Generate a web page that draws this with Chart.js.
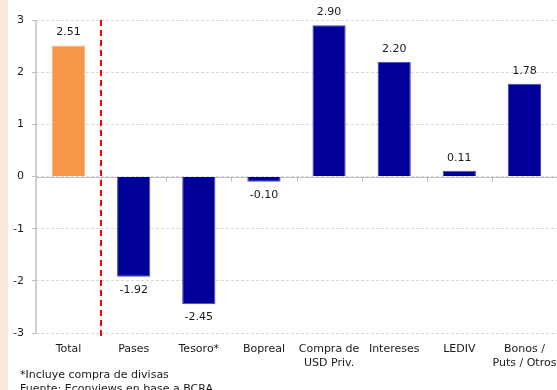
<!DOCTYPE html>
<html lang="es">
<head>
  <meta charset="UTF-8">
  <title>Factores de variación</title>
  <script src="https://cdn.jsdelivr.net/npm/chart.js"></script>
  <style>
    html, body { margin: 0; padding: 0; background: #ffffff; }
    #wrap { position: relative; width: 557px; height: 390px; }
  </style>
</head>
<body>
  <div id="wrap">
    <canvas id="factores" width="557" height="390"></canvas>
  </div>

  <script>
    // Datos
    const categorias = ['Total', 'Pases', 'Tesoro*', 'Bopreal', ['Compra de', 'USD Priv.'], 'Intereses', 'LEDIV', ['Bonos /', 'Puts / Otros']];
    const valores = [2.51, -1.92, -2.45, -0.10, 2.90, 2.20, 0.11, 1.78];
    const ejeY = [-3, -2, -1, 0, 1, 2, 3];
    const notas = ['*Incluye compra de divisas', 'Fuente: Econviews en base a BCRA'];

    const fuente = '"DejaVu Sans", sans-serif';
    const naranja = '#f79646';
    const azul = '#000099';

    const colores = valores.map((v, i) => i === 0 ? naranja : azul);
    const bordes = valores.map((v, i) => i === 0 ? '#f9b27a' : '#4646b4');

    // franja lateral, ejes, separador rojo, etiquetas y notas
    const extras = {
      id: 'extras',
      beforeDraw(chart) {
        const ctx = chart.ctx;
        ctx.save();
        ctx.fillStyle = '#fde9d9';
        ctx.fillRect(0, 0, 8, chart.height);
        ctx.restore();
      },
      beforeDatasetsDraw(chart) {
        const ctx = chart.ctx;
        const area = chart.chartArea;
        const y = chart.scales.y;
        const y0 = Math.round(y.getPixelForValue(0)) + 0.5;
        const paso = (area.right - area.left) / categorias.length;
        ctx.save();
        ctx.strokeStyle = '#bfbfbf';
        ctx.lineWidth = 1;
        ctx.beginPath();
        ctx.moveTo(area.left, y0);
        ctx.lineTo(area.right, y0);
        for (let i = 1; i < categorias.length; i++) {
          const xt = Math.round(area.left + paso * i) + 0.5;
          ctx.moveTo(xt, y0);
          ctx.lineTo(xt, y0 + 4);
        }
        ctx.stroke();
        // eje vertical
        ctx.lineWidth = 1.5;
        ctx.beginPath();
        ctx.moveTo(area.left, area.top);
        ctx.lineTo(area.left, area.bottom);
        ctx.stroke();
        ctx.restore();
      },
      afterDatasetsDraw(chart) {
        const ctx = chart.ctx;
        const area = chart.chartArea;
        const paso = (area.right - area.left) / categorias.length;

        // separador entre el total y los factores
        ctx.save();
        ctx.strokeStyle = '#ff0000';
        ctx.lineWidth = 2;
        ctx.setLineDash([6, 4]);
        ctx.beginPath();
        const xs = Math.round(area.left + paso);
        ctx.moveTo(xs, area.top);
        ctx.lineTo(xs, area.bottom + 6);
        ctx.stroke();
        ctx.restore();

        // valores sobre / bajo cada barra
        ctx.save();
        ctx.font = '11px ' + fuente;
        ctx.fillStyle = '#1a1a1a';
        ctx.textAlign = 'center';
        ctx.textBaseline = 'middle';
        chart.getDatasetMeta(0).data.forEach((bar, i) => {
          const v = valores[i];
          const ty = v >= 0 ? bar.y - 13 : bar.y + 13;
          ctx.fillText(v.toFixed(2), bar.x, ty);
        });

        // notas al pie
        ctx.textAlign = 'left';
        ctx.fillText(notas[0], 20, 375);
        ctx.fillText(notas[1], 20, 389);
        ctx.restore();
      }
    };

    new Chart(document.getElementById('factores'), {
      type: 'bar',
      data: {
        labels: categorias,
        datasets: [{
          data: valores,
          backgroundColor: colores,
          borderColor: bordes,
          borderWidth: 1,
          categoryPercentage: 1,
          barPercentage: 0.51
        }]
      },
      options: {
        responsive: false,
        animation: false,
        layout: { autoPadding: false, padding: { top: 20, left: 0, right: 0, bottom: 0 } },
        plugins: { legend: { display: false }, tooltip: { enabled: false } },
        scales: {
          x: {
            afterFit(scale) {
              scale.height = 57;
              // la última etiqueta puede salirse por la derecha
              scale.paddingLeft = 0;
              scale.paddingRight = 0;
              if (scale._margins) { scale._margins.left = 0; scale._margins.right = 0; }
            },
            grid: { display: false, drawTicks: false },
            border: { display: false },
            ticks: {
              color: '#1a1a1a',
              font: { family: fuente, size: 11 },
              padding: 10,
              maxRotation: 0,
              autoSkip: false
            }
          },
          y: {
            min: ejeY[0],
            max: ejeY[ejeY.length - 1],
            afterFit(scale) { scale.width = 36; },
            afterBuildTicks(scale) { scale.ticks = ejeY.map(v => ({ value: v })); },
            grid: {
              color: '#d9d9d9',
              tickColor: '#bfbfbf',
              tickLength: 4,
              tickBorderDash: []
            },
            border: { display: false, dash: [3, 2] },
            ticks: {
              color: '#1a1a1a',
              font: { family: fuente, size: 11 },
              padding: 8
            }
          }
        }
      },
      plugins: [extras]
    });
  </script>
</body>
</html>
